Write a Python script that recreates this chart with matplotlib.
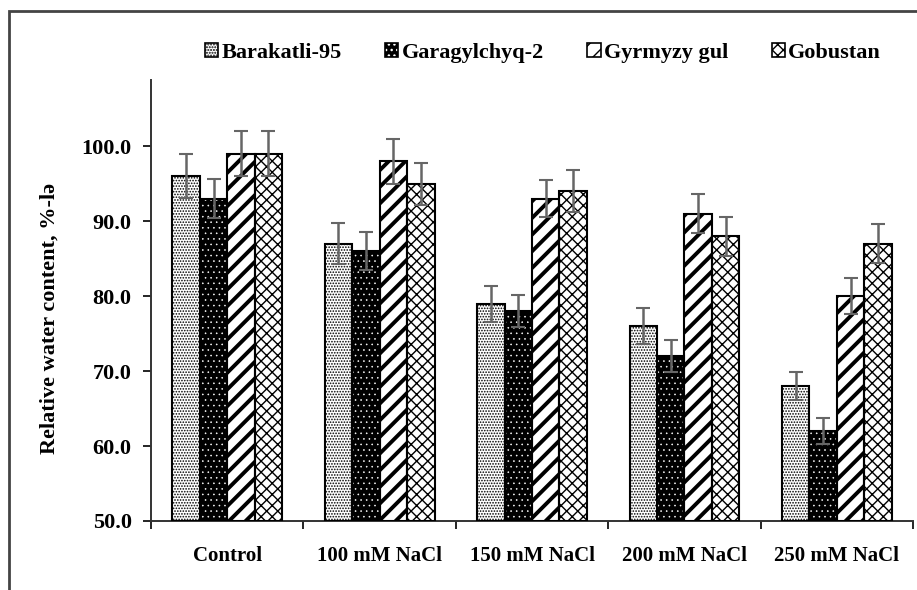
import numpy as np
import matplotlib.pyplot as plt
from matplotlib.patches import Rectangle, Patch

plt.rcParams['font.family'] = 'Liberation Serif'
plt.rcParams['font.weight'] = 'bold'

# data
groups = ['Control', '100 mM NaCl', '150 mM NaCl', '200 mM NaCl', '250 mM NaCl']
varieties = ['Barakatli-95', 'Garagylchyq-2', 'Gyrmyzy gul', 'Gobustan']
barakatli = [96, 87, 79, 76, 68]
garagylchyq = [93, 86, 78, 72, 62]
gyrmyzy = [99, 98, 93, 91, 80]
gobustan = [99, 95, 94, 88, 87]
barakatli_err = [2.9, 2.7, 2.4, 2.4, 1.9]
garagylchyq_err = [2.6, 2.5, 2.1, 2.1, 1.7]
gyrmyzy_err = [3.0, 3.0, 2.5, 2.6, 2.4]
gobustan_err = [3.0, 2.8, 2.8, 2.6, 2.6]

values = [barakatli, garagylchyq, gyrmyzy, gobustan]
errors = [barakatli_err, garagylchyq_err, gyrmyzy_err, gobustan_err]
# (face, hatch colour, hatch, hatch linewidth)
styles = [('white', 'black', '......', 0.8),
          ('black', 'white', '...', 0.4),
          ('white', 'black', '//', 2.8),
          ('white', 'black', 'xxx', 1.0)]

fig = plt.figure(figsize=(9.17, 5.9), dpi=100)
ax = fig.add_axes([0.1647, 0.117, 0.831, 0.747])

x = np.arange(len(groups))
w = 0.18
handles = []
for i, (vals, errs) in enumerate(zip(values, errors)):
    face, hcol, hatch, hlw = styles[i]
    plt.rcParams['hatch.linewidth'] = hlw
    pos = x + (i - 1.5) * w
    bars = ax.bar(pos, np.array(vals) - 50, w, bottom=50, color=face,
                  edgecolor=hcol, hatch=hatch, linewidth=0, zorder=2)
    for b in bars:
        if hasattr(b, 'set_hatch_linewidth'):
            b.set_hatch_linewidth(hlw)
    # black outline drawn over the hatched bar
    ax.bar(pos, np.array(vals) - 50, w, bottom=50, fill=False,
           edgecolor='black', linewidth=1.5, zorder=3)
    eb = ax.errorbar(pos, vals, yerr=errs, fmt='none', ecolor='#666666',
                     elinewidth=1.8, capsize=5, capthick=1.5, zorder=4)
    for cap in eb[1]:
        cap.set_color('black')
    p = Patch(facecolor=face, edgecolor=hcol, hatch=hatch, linewidth=0)
    if hasattr(p, 'set_hatch_linewidth'):
        p.set_hatch_linewidth(min(hlw, 1.5))
    outline = Patch(fill=False, edgecolor='black', linewidth=1.2)
    handles.append((p, outline))

ax.set_xlim(-0.5, 4.5)
ax.set_ylim(50, 108.8)
ax.set_yticks(np.arange(50, 101, 10))
ax.set_yticklabels([f'{v:.1f}' for v in np.arange(50, 101, 10)], fontsize=16)
ax.set_xticks(x)
ax.set_xticklabels(groups, fontsize=15)
ax.set_xticks(np.arange(-0.5, 5, 1), minor=True)
ax.tick_params(axis='x', which='major', length=0, pad=18)
ax.tick_params(axis='x', which='minor', length=6, width=1.2, direction='out')
ax.tick_params(axis='y', length=6, width=1.2, direction='out', pad=8)
ax.spines['top'].set_visible(False)
ax.spines['right'].set_visible(False)
ax.spines['left'].set_linewidth(1.4)
ax.spines['bottom'].set_linewidth(1.4)
ax.spines['left'].set_color('#333333')
ax.spines['bottom'].set_color('#333333')
ax.set_ylabel('Relative water content, %-lə', fontsize=16, fontweight='bold')
ax.yaxis.set_label_coords(-0.12, 0.46)

fig.legend(handles, varieties, loc='center', bbox_to_anchor=(0.592, 0.91),
           ncol=4, frameon=False, fontsize=16, handlelength=0.6,
           handleheight=0.6, handletextpad=0.15, columnspacing=1.95)

# outer frame, open at right and bottom like the source image
fig.patches.append(Rectangle((0.0098, -0.2), 2, 1.181, transform=fig.transFigure,
                             fill=False, edgecolor='#444444', linewidth=2))

fig.savefig('out.png', dpi=100)
